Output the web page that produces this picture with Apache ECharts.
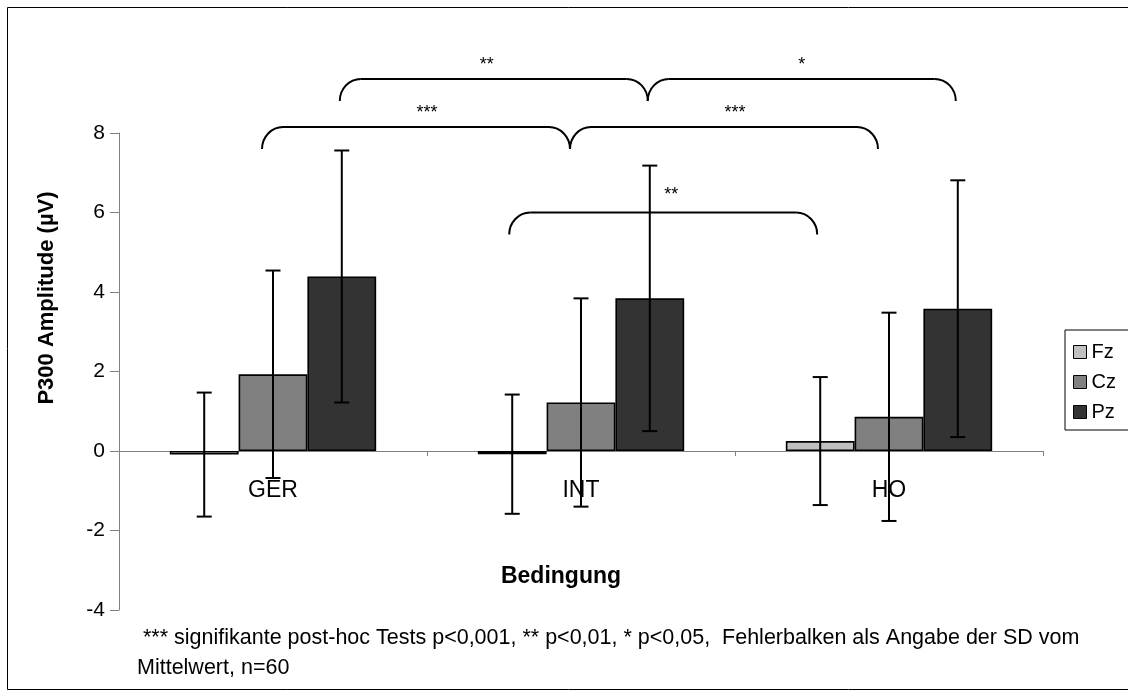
<!DOCTYPE html>
<html>
<head>
<meta charset="utf-8">
<script src="https://cdn.jsdelivr.net/npm/echarts@6/dist/echarts.min.js"></script>
<style>
  html, body { margin: 0; padding: 0; background: #fff; }
  #chart { width: 1128px; height: 698px; }
</style>
</head>
<body>
<div id="chart"></div>
<script>
// Conditions on the category axis, electrode sites as series
const categories = ['GER', 'INT', 'HO'];
const electrodes = ['Fz', 'Cz', 'Pz'];

// Mean P300 amplitude (µV) per condition
const fzMean = [-0.09, -0.08, 0.25];
const czMean = [1.93, 1.22, 0.86];
const pzMean = [4.39, 3.84, 3.58];

// Standard deviation per condition (error bars)
const fzSD = [1.56, 1.50, 1.61];
const czSD = [2.61, 2.62, 2.62];
const pzSD = [3.17, 3.34, 3.23];

// Value axis ticks
const yTicks = [-4, -2, 0, 2, 4, 6, 8];

// Post-hoc comparisons: [category, electrode] pairs joined by a brace
const comparisons = [
  { a: [0, 2], b: [1, 2], level: 9.36, label: '**' },
  { a: [1, 2], b: [2, 2], level: 9.36, label: '*' },
  { a: [0, 1], b: [1, 1], level: 8.15, label: '***' },
  { a: [1, 1], b: [2, 1], level: 8.15, label: '***' },
  { a: [1, 0], b: [2, 0], level: 6.0, label: '**' }
];

const footnoteLines = [
  ' *** signifikante post-hoc Tests p<0,001, ** p<0,01, * p<0,05,  Fehlerbalken als Angabe der SD vom',
  'Mittelwert, n=60'
];

const means = [fzMean, czMean, pzMean];
const sds = [fzSD, czSD, pzSD];
const fills = ['#c0c0c0', '#808080', '#333333'];
const CAT_GAP = 0.33;
const FONT = 'Arial, "Liberation Sans", sans-serif';

// style tweaks for brace placement (pixels)
const braceStyle = [
  { shift: -2, textDx: -7, textDy: -14 },
  { shift: -2, textDx: 0, textDy: -14 },
  { shift: -11, textDx: 11, textDy: -14 },
  { shift: -11, textDx: 11, textDy: -14 },
  { shift: -3, textDx: 8, textDy: -17 }
];

const GRID = { left: 119, right: 85, top: 133, bottom: 88 };

const chart = echarts.init(document.getElementById('chart'), null, { renderer: 'canvas' });

function errorSeries(idx) {
  return {
    type: 'custom',
    name: electrodes[idx] + ' SD',
    z: 10,
    silent: true,
    data: means[idx].map((m, i) => [i, m - sds[idx][i], m + sds[idx][i]]),
    renderItem(params, api) {
      const c = api.value(0);
      const lo = api.coord([c, api.value(1)]);
      const hi = api.coord([c, api.value(2)]);
      const band = api.size([1, 0])[0];
      const bw = band * (1 - CAT_GAP) / 3;
      const x = lo[0] + (idx - 1) * bw;
      const cap = 7.5;
      const st = { stroke: '#000', lineWidth: 2 };
      return {
        type: 'group',
        children: [
          { type: 'line', shape: { x1: x, y1: lo[1], x2: x, y2: hi[1] }, style: st },
          { type: 'line', shape: { x1: x - cap, y1: hi[1], x2: x + cap, y2: hi[1] }, style: st },
          { type: 'line', shape: { x1: x - cap, y1: lo[1], x2: x + cap, y2: lo[1] }, style: st }
        ]
      };
    }
  };
}

const barSeries = electrodes.map((name, idx) => ({
  type: 'bar',
  name: name,
  data: means[idx],
  barGap: '0%',
  barCategoryGap: (CAT_GAP * 100) + '%',
  itemStyle: { color: fills[idx], borderColor: '#000', borderWidth: 1.6 },
  emphasis: { disabled: true }
}));

// distance from the zero line to the bottom of the grid, so the category
// labels sit just under the zero line
const plotH = 698 - GRID.top - GRID.bottom;
const zeroToBottom = plotH * (0 - yTicks[0]) / (yTicks[yTicks.length - 1] - yTicks[0]);

chart.setOption({
  animation: false,
  backgroundColor: '#fff',
  textStyle: { fontFamily: FONT },
  grid: GRID,
  legend: {
    data: electrodes,
    orient: 'vertical',
    left: 1065,
    top: 330,
    itemWidth: 13,
    itemHeight: 13,
    itemGap: 10,
    padding: [12, 40, 8, 8],
    borderColor: '#000',
    borderWidth: 1,
    icon: 'rect',
    itemStyle: { borderColor: '#000', borderWidth: 1 },
    textStyle: { fontSize: 20, color: '#000', fontFamily: FONT, lineHeight: 20 },
    selectedMode: false
  },
  xAxis: {
    type: 'category',
    data: categories,
    axisLine: { onZero: true, lineStyle: { color: '#808080', width: 1 } },
    axisTick: { show: true, alignWithLabel: false, length: 5, lineStyle: { color: '#808080' } },
    axisLabel: { fontSize: 23, color: '#000', margin: 28 - zeroToBottom, fontFamily: FONT },
    splitLine: { show: false }
  },
  yAxis: {
    type: 'value',
    min: yTicks[0],
    max: yTicks[yTicks.length - 1],
    interval: yTicks[1] - yTicks[0],
    axisLine: { show: true, lineStyle: { color: '#808080', width: 1 } },
    axisTick: { show: true, length: 9, lineStyle: { color: '#808080' } },
    axisLabel: { fontSize: 21, color: '#000', margin: 14, fontFamily: FONT },
    splitLine: { show: false }
  },
  series: barSeries.concat([errorSeries(0), errorSeries(1), errorSeries(2)])
});

// Braces, titles, footnote and frame drawn on top of the grid
function barCenter(cat, idx) {
  const c0 = chart.convertToPixel({ xAxisIndex: 0 }, 0);
  const c1 = chart.convertToPixel({ xAxisIndex: 0 }, 1);
  const band = c1 - c0;
  const bw = band * (1 - CAT_GAP) / 3;
  return chart.convertToPixel({ xAxisIndex: 0 }, cat) + (idx - 1) * bw;
}
function yPix(v) {
  return chart.convertToPixel({ yAxisIndex: 0 }, v);
}

const graphics = [];
const K = 0.5523;
const braceLine = { stroke: '#000', lineWidth: 2, fill: null };
comparisons.forEach((cmp, i) => {
  const s = braceStyle[i];
  const x0 = barCenter(cmp.a[0], cmp.a[1]) + s.shift;
  const x1 = barCenter(cmp.b[0], cmp.b[1]) + s.shift;
  const yt = yPix(cmp.level);
  const r = 21, h = 22;
  const yb = yt + h;
  graphics.push({
    type: 'bezierCurve',
    shape: { x1: x0, y1: yb, cpx1: x0, cpy1: yb - K * h, cpx2: x0 + r - K * r, cpy2: yt, x2: x0 + r, y2: yt },
    style: braceLine, z: 20
  });
  graphics.push({
    type: 'line',
    shape: { x1: x0 + r, y1: yt, x2: x1 - r, y2: yt },
    style: braceLine, z: 20
  });
  graphics.push({
    type: 'bezierCurve',
    shape: { x1: x1 - r, y1: yt, cpx1: x1 - r + K * r, cpy1: yt, cpx2: x1, cpy2: yb - K * h, x2: x1, y2: yb },
    style: braceLine, z: 20
  });
  graphics.push({
    type: 'text',
    x: (x0 + x1) / 2 + s.textDx,
    y: yt + s.textDy,
    style: { text: cmp.label, font: '18px ' + FONT, fill: '#000', align: 'center', verticalAlign: 'middle' },
    z: 20
  });
});

// axis titles
graphics.push({
  type: 'text',
  x: 47, y: 298,
  rotation: Math.PI / 2,
  style: { text: 'P300 Amplitude (µV)', font: 'bold 22px ' + FONT, fill: '#000', align: 'center', verticalAlign: 'middle' },
  z: 20
});
graphics.push({
  type: 'text',
  x: 561, y: 577,
  style: { text: 'Bedingung', font: 'bold 23px ' + FONT, fill: '#000', align: 'center', verticalAlign: 'middle' },
  z: 20
});
// footnote
footnoteLines.forEach((line, i) => {
  graphics.push({
    type: 'text',
    x: 137, y: 638 + i * 30,
    style: { text: line, font: '21.5px ' + FONT, fill: '#000', align: 'left', verticalAlign: 'middle' },
    z: 20
  });
});
// outer frame
graphics.push({
  type: 'rect',
  shape: { x: 7.5, y: 7.5, width: 1140, height: 682 },
  style: { stroke: '#000', lineWidth: 1, fill: null },
  z: 0
});

chart.setOption({ graphic: graphics });
</script>
</body>
</html>
